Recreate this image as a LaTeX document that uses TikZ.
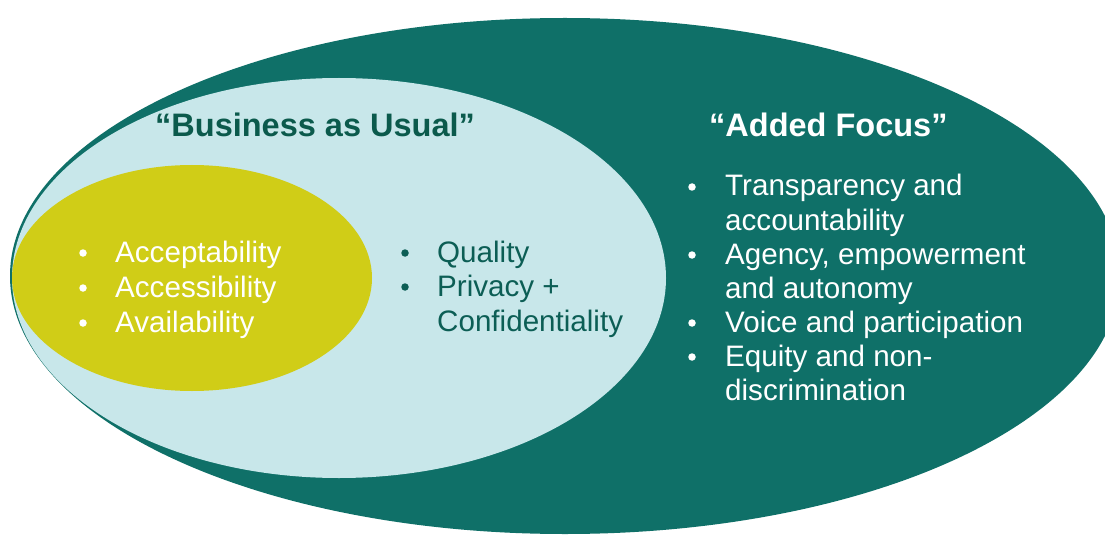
\documentclass[tikz,border=0pt]{standalone}
\usepackage{fontspec}
\setmainfont{Liberation Sans}
\usetikzlibrary{shapes.geometric}
\definecolor{tealdark}{HTML}{0F7068}
\definecolor{paleblue}{HTML}{C8E7EA}
\definecolor{olive}{HTML}{D0CD17}
\definecolor{greentext}{HTML}{0C5E55}
\definecolor{greentitle}{HTML}{0B5A4C}
\tikzset{
  blob/.style={ellipse, draw=none, inner sep=0pt},
  body/.style={font=\fontsize{29.6}{35}\selectfont, inner sep=0pt, anchor=base west},
  title/.style={font=\fontsize{32.5}{38}\selectfont\bfseries, inner sep=0pt, anchor=base west},
  dot/.style={circle, inner sep=0pt, minimum size=7.5pt},
}
\begin{document}
\begin{tikzpicture}[x=1pt,y=-1pt]
\useasboundingbox (0,0) rectangle (1105,540);
\clip (0,0) rectangle (1105,540);
\fill[white] (0,0) rectangle (1105,540);
% ellipses
\node[blob, fill=tealdark, minimum width=1110pt, minimum height=516pt] (outer) at (565,276) {};
\node[blob, fill=paleblue, minimum width=654pt, minimum height=400pt] (usual) at (339,278) {};
\node[blob, fill=olive, minimum width=360pt, minimum height=226pt] (core) at (192,278) {};
% titles
\node[title, text=greentitle] (t1) at (155,137) {“Business as Usual”};
\node[title, text=white] (t2) at (709,137) {“Added Focus”};
% core items
\node[dot, fill=white] (b1) at (83,253) {};
\node[dot, fill=white] (b2) at (83,288) {};
\node[dot, fill=white] (b3) at (83,323) {};
\node[body, text=white] (c1) at (115,262) {Acceptability};
\node[body, text=white] (c2) at (115,297) {Accessibility};
\node[body, text=white] (c3) at (115,332) {Availability};
% business as usual items
\node[dot, fill=greentext] (b4) at (405,253) {};
\node[dot, fill=greentext] (b5) at (405,287) {};
\node[body, text=greentext] (u1) at (437,262) {Quality};
\node[body, text=greentext] (u2) at (437,296) {Privacy +};
\node[body, text=greentext] (u3) at (437,331) {Confidentiality};
% added focus items
\node[dot, fill=white] (b6) at (692,187) {};
\node[dot, fill=white] (b7) at (692,255) {};
\node[dot, fill=white] (b8) at (692,323) {};
\node[dot, fill=white] (b9) at (692,357) {};
\node[body, text=white] (a1) at (725,196) {Transparency and};
\node[body, text=white] (a2) at (725,230) {accountability};
\node[body, text=white] (a3) at (725,264) {Agency, empowerment};
\node[body, text=white] (a4) at (725,298) {and autonomy};
\node[body, text=white] (a5) at (725,332) {Voice and participation};
\node[body, text=white] (a6) at (725,366) {Equity and non-};
\node[body, text=white] (a7) at (725,400) {discrimination};
\end{tikzpicture}
\end{document}
